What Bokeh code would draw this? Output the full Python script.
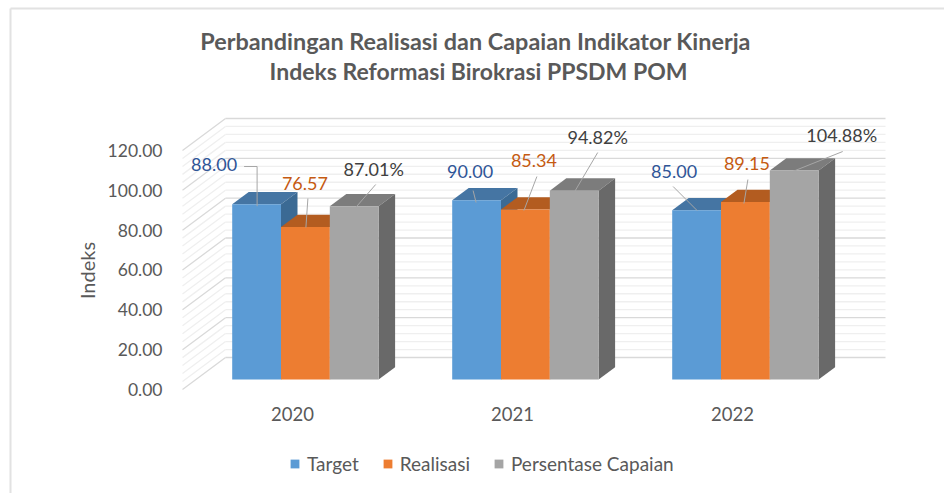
import math
from bokeh.plotting import figure
from bokeh.models import (Range1d, FixedTicker, NumeralTickFormatter, Legend, LegendItem,
                          Label, ColumnDataSource)
from bokeh.core.properties import value
from bokeh.embed import file_html
from bokeh.resources import INLINE

# ---------- data ----------
categories = ["2020", "2021", "2022"]
target = [88.00, 90.00, 85.00]
realisasi = [76.57, 85.34, 89.15]
capaian = [87.01, 94.82, 104.88]
target_labels = ["88.00", "90.00", "85.00"]
realisasi_labels = ["76.57", "85.34", "89.15"]
capaian_labels = ["87.01%", "94.82%", "104.88%"]
y_ticks = [0, 20, 40, 60, 80, 100, 120]
series_names = ["Target", "Realisasi", "Persentase Capaian"]
title_lines = ["Perbandingan Realisasi dan Capaian  Indikator Kinerja",
               "Indeks Reformasi Birokrasi PPSDM POM"]
y_title = "Indeks"

# ---------- layout constants (pixels) ----------
W, H = 944, 493
ORIGIN_X, ORIGIN_Y = 182, 389   # where category 0 / value 0 lie on the front of the floor
SLOT = 220.0            # px per category
UNIT = 1.9917           # px per value unit
px = lambda d: d / SLOT
py = lambda d: d / UNIT
WALL_DX, WALL_DY = px(43), py(32)
BAR_DX, BAR_DY = px(49.7), py(10)      # bar front relative to the slot start / floor front
DEPTH_DX, DEPTH_DY = px(16.5), py(12.3)
BAR_W = px(48.8)
FONT = "Lato"
GREY_TXT = "#595959"

styles = [
    dict(front="#5B9BD5", top="#4575A3", side="#3B6A94", text="#2F5597"),
    dict(front="#ED7D31", top="#B35C20", side="#A9561E", text="#C55A11"),
    dict(front="#A5A5A5", top="#7C7C7C", side="#696969", text="#404040"),
]
# label centre and leader ends, relative to each bar's top-centre (dx, dy up), in px
label_off = [
    [(-42.5, 39.7), (-6.5, 28.7), (-22.5, 38.7)],
    [(-0.5, 43.5), (8.5, 49.0), (1.5, 38.4)],
    [(19.5, 37.7), (23.5, 54.1), (47.5, 36.1)],
]
leader_off = [
    [[(0.5, -2), (0.5, 37.7), (-12.5, 37.7)], [(-0.5, -2.3), (-3.5, 9.7)], [(0.5, -0.3), (-23.5, 23.7)]],
    [[(0.5, -0.5), (2.5, 28.5)], [(-1.5, -1), (11.5, 33)], [(-1.5, -1.6), (2.5, 22.4)]],
    [[(1.5, -1.3), (21.5, 21.7)], [(0.5, -0.9), (23.5, 38.1)], [(-1.5, -0.9), (48.5, 19.1)]],
]

# The frame fills the whole canvas, so titles and legend can sit anywhere inside it.
p = figure(frame_width=W, frame_height=H, output_backend="svg", toolbar_location=None, title=None,
           x_range=Range1d(px(-ORIGIN_X), px(W - ORIGIN_X)), y_range=Range1d(py(ORIGIN_Y - H), py(ORIGIN_Y)),
           min_border=0, background_fill_color="white", border_fill_color="white", outline_line_color=None)
p.grid.visible = False

# ---------- outer frame of the picture ----------
p.segment(x0=[px(10 - ORIGIN_X)] * 2, y0=[py(ORIGIN_Y - 8), py(ORIGIN_Y - 8)],
          x1=[px(W - ORIGIN_X), px(10 - ORIGIN_X)], y1=[py(ORIGIN_Y - 8), py(ORIGIN_Y - H)],
          line_color="#E2E2E2", line_width=2)

# ---------- walls ----------
step = y_ticks[1] - y_ticks[0]
minor = [t + step * k / 5 for t in y_ticks[:-1] for k in range(1, 5)]
x_wall0, x_wall1 = WALL_DX, WALL_DX + len(categories)
for ticks, col, lw in ((minor, "#EFEFEF", 1.3), (y_ticks, "#D9D9D9", 1.3)):
    p.segment(x0=[x_wall0] * len(ticks), y0=[t + WALL_DY for t in ticks],
              x1=[x_wall1] * len(ticks), y1=[t + WALL_DY for t in ticks], line_color=col, line_width=lw)
    p.segment(x0=[0] * len(ticks), y0=ticks,
              x1=[WALL_DX] * len(ticks), y1=[t + WALL_DY for t in ticks], line_color=col, line_width=lw)

# ---------- bars ----------
all_series = [target, realisasi, capaian]
legend_items = []
for s, vals in enumerate(all_series):
    st = styles[s]
    lefts = [g + BAR_DX + s * BAR_W for g in range(len(vals))]
    rights = [l + BAR_W for l in lefts]
    tops = [v + BAR_DY for v in vals]
    bases = [BAR_DY] * len(vals)
    p.patches(xs=[[l, r, r + DEPTH_DX, l + DEPTH_DX] for l, r in zip(lefts, rights)],
              ys=[[t, t, t + DEPTH_DY, t + DEPTH_DY] for t in tops],
              fill_color=st["top"], line_color=None)
    p.patches(xs=[[r, r + DEPTH_DX, r + DEPTH_DX, r] for r in rights],
              ys=[[b, b + DEPTH_DY, t + DEPTH_DY, t] for b, t in zip(bases, tops)],
              fill_color=st["side"], line_color=None)
    src = ColumnDataSource(dict(x=[(l + r) / 2 for l, r in zip(lefts, rights)], top=tops, bottom=bases))
    r_front = p.vbar(x="x", top="top", bottom="bottom", width=BAR_W, source=src,
                     fill_color=st["front"], line_color=None)
    legend_items.append(LegendItem(label=series_names[s], renderers=[r_front]))

# ---------- data labels + leader lines ----------
all_labels = [target_labels, realisasi_labels, capaian_labels]
for s, vals in enumerate(all_series):
    centres = [g + BAR_DX + (s + 0.5) * BAR_W for g in range(len(vals))]
    tops = [v + BAR_DY for v in vals]
    xs = [[c + px(a) for a, _ in pts] for c, pts in zip(centres, leader_off[s])]
    ys = [[t + py(b) for _, b in pts] for t, pts in zip(tops, leader_off[s])]
    p.multi_line(xs=xs, ys=ys, line_color="#A6A6A6", line_width=1)
    p.text(x=[c + px(o[0]) for c, o in zip(centres, label_off[s])],
           y=[t + py(o[1]) for t, o in zip(tops, label_off[s])],
           text=all_labels[s], text_align="center", text_baseline="middle",
           text_font=value(FONT), text_font_size="18px", text_color=styles[s]["text"])

# ---------- axes ----------
ya = p.yaxis[0]
ya.ticker = FixedTicker(ticks=y_ticks)
ya.formatter = NumeralTickFormatter(format="0.00")
ya.fixed_location = 0
ya.axis_line_color = None
ya.major_tick_line_color = None
ya.minor_tick_line_color = None
ya.major_label_standoff = 14
ya.major_label_text_font = FONT
ya.major_label_text_font_size = "17.5px"
ya.major_label_text_color = GREY_TXT

xa = p.xaxis[0]
xa.ticker = FixedTicker(ticks=[g + 0.5 for g in range(len(categories))])
xa.major_label_overrides = {g + 0.5: c for g, c in enumerate(categories)}
xa.fixed_location = py(-11)
xa.axis_line_color = None
xa.major_tick_line_color = None
xa.minor_tick_line_color = None
xa.major_label_standoff = 0
xa.major_label_text_font = FONT
xa.major_label_text_font_size = "18.5px"
xa.major_label_text_color = GREY_TXT

p.add_layout(Label(x=px(86 - ORIGIN_X), y=py(ORIGIN_Y - 270), text=y_title, angle=math.pi / 2,
                   text_align="center", text_baseline="middle", text_font=FONT,
                   text_font_size="20px", text_color=GREY_TXT))

# ---------- legend ----------
legend = Legend(items=legend_items, orientation="horizontal", location=(289, 18),
                label_text_font=FONT, label_text_font_size="19px", label_text_color=GREY_TXT,
                glyph_width=11, glyph_height=11, spacing=23, label_standoff=7,
                border_line_color=None, background_fill_alpha=0, padding=4, margin=0)
p.add_layout(legend, "center")

# ---------- title ----------
for text, page_y, size in zip(title_lines, (40, 70), ("23.4px", "23px")):
    p.add_layout(Label(x=px(478 - ORIGIN_X), y=py(ORIGIN_Y - page_y), text=text, text_align="center",
                       text_baseline="middle", text_font=FONT, text_font_size=size,
                       text_font_style="bold", text_color=GREY_TXT))

open("out.html", "w").write(file_html(p, INLINE))
